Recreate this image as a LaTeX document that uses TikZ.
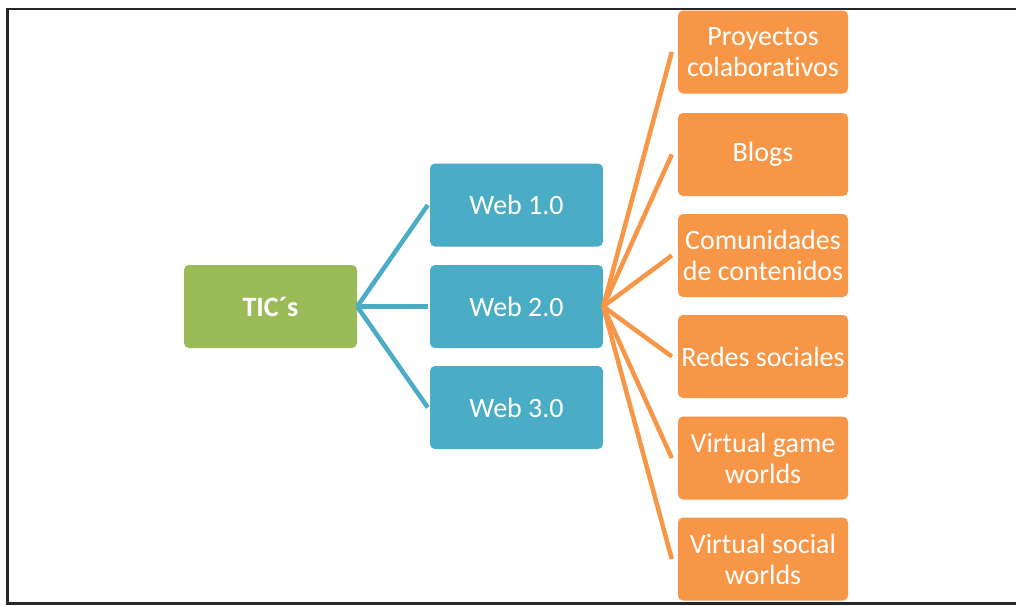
\documentclass[tikz,border=0pt]{standalone}
\usepackage{fontspec}
\setmainfont{Carlito}[Ligatures={NoCommon}, RawFeature=-liga, RawFeature=-calt]
\definecolor{tgreen}{HTML}{9BBB59}
\definecolor{tblue}{HTML}{4BACC6}
\definecolor{torange}{HTML}{F79646}
\begin{document}
\begin{tikzpicture}[x=1pt,y=-1pt,
  boxstyle/.style={rounded corners=5pt, inner sep=0pt, align=center, text=white,
    font=\fontsize{28}{31}\selectfont, minimum height=83pt},
  greenbox/.style={boxstyle, fill=tgreen, minimum width=173pt},
  bluebox/.style={boxstyle, fill=tblue, minimum width=173pt},
  orangebox/.style={boxstyle, fill=torange, minimum width=170pt},
  blueline/.style={draw=tblue, line width=4.5pt},
  orangeline/.style={draw=torange, line width=4.5pt},
  framestyle/.style={draw=black!85, line width=2.5pt}]
\useasboundingbox (0,0) rectangle (1016,605);
\fill[white] (0,0) rectangle (1016,605);
% frame
\coordinate (ftr) at (1016,9);
\coordinate (ftl) at (7.5,9);
\coordinate (fbl) at (7.5,603.5);
\coordinate (fbr) at (1016,603.5);
\draw[framestyle] (ftr) -- (ftl) -- (fbl) -- (fbr);
% nodes
\node[greenbox, font=\fontsize{28}{31}\selectfont\bfseries] (tic) at (270.5,306.5) {TIC´s};
\node[bluebox] (w1) at (516.5,205) {Web 1.0};
\node[bluebox] (w2) at (516.5,306.5) {Web 2.0};
\node[bluebox] (w3) at (516.5,407.5) {Web 3.0};
\node[orangebox] (o1) at (763,52) {Proyectos\\colaborat\kern0pt ivos};
\node[orangebox] (o2) at (763,154.5) {Blogs};
\node[orangebox] (o3) at (763,255.5) {Comunidades\\de contenidos};
\node[orangebox] (o4) at (763,356.5) {Redes sociales};
\node[orangebox] (o5) at (763,458) {Virtual game\\worlds};
\node[orangebox] (o6) at (763,559) {Virtual social\\worlds};
% connector ends
\coordinate (b1) at ([xshift=-2pt]w1.west);
\coordinate (b2) at ([xshift=-2pt]w2.west);
\coordinate (b3) at ([xshift=-2pt]w3.west);
\foreach \i in {1,...,6} { \coordinate (e\i) at ([xshift=-6pt]o\i.west); }
% connectors
\foreach \i in {1,2,3} { \draw[blueline] (tic.east) -- (b\i); }
\foreach \i in {1,...,6} { \draw[orangeline] (w2.east) -- (e\i); }
\end{tikzpicture}
\end{document}
